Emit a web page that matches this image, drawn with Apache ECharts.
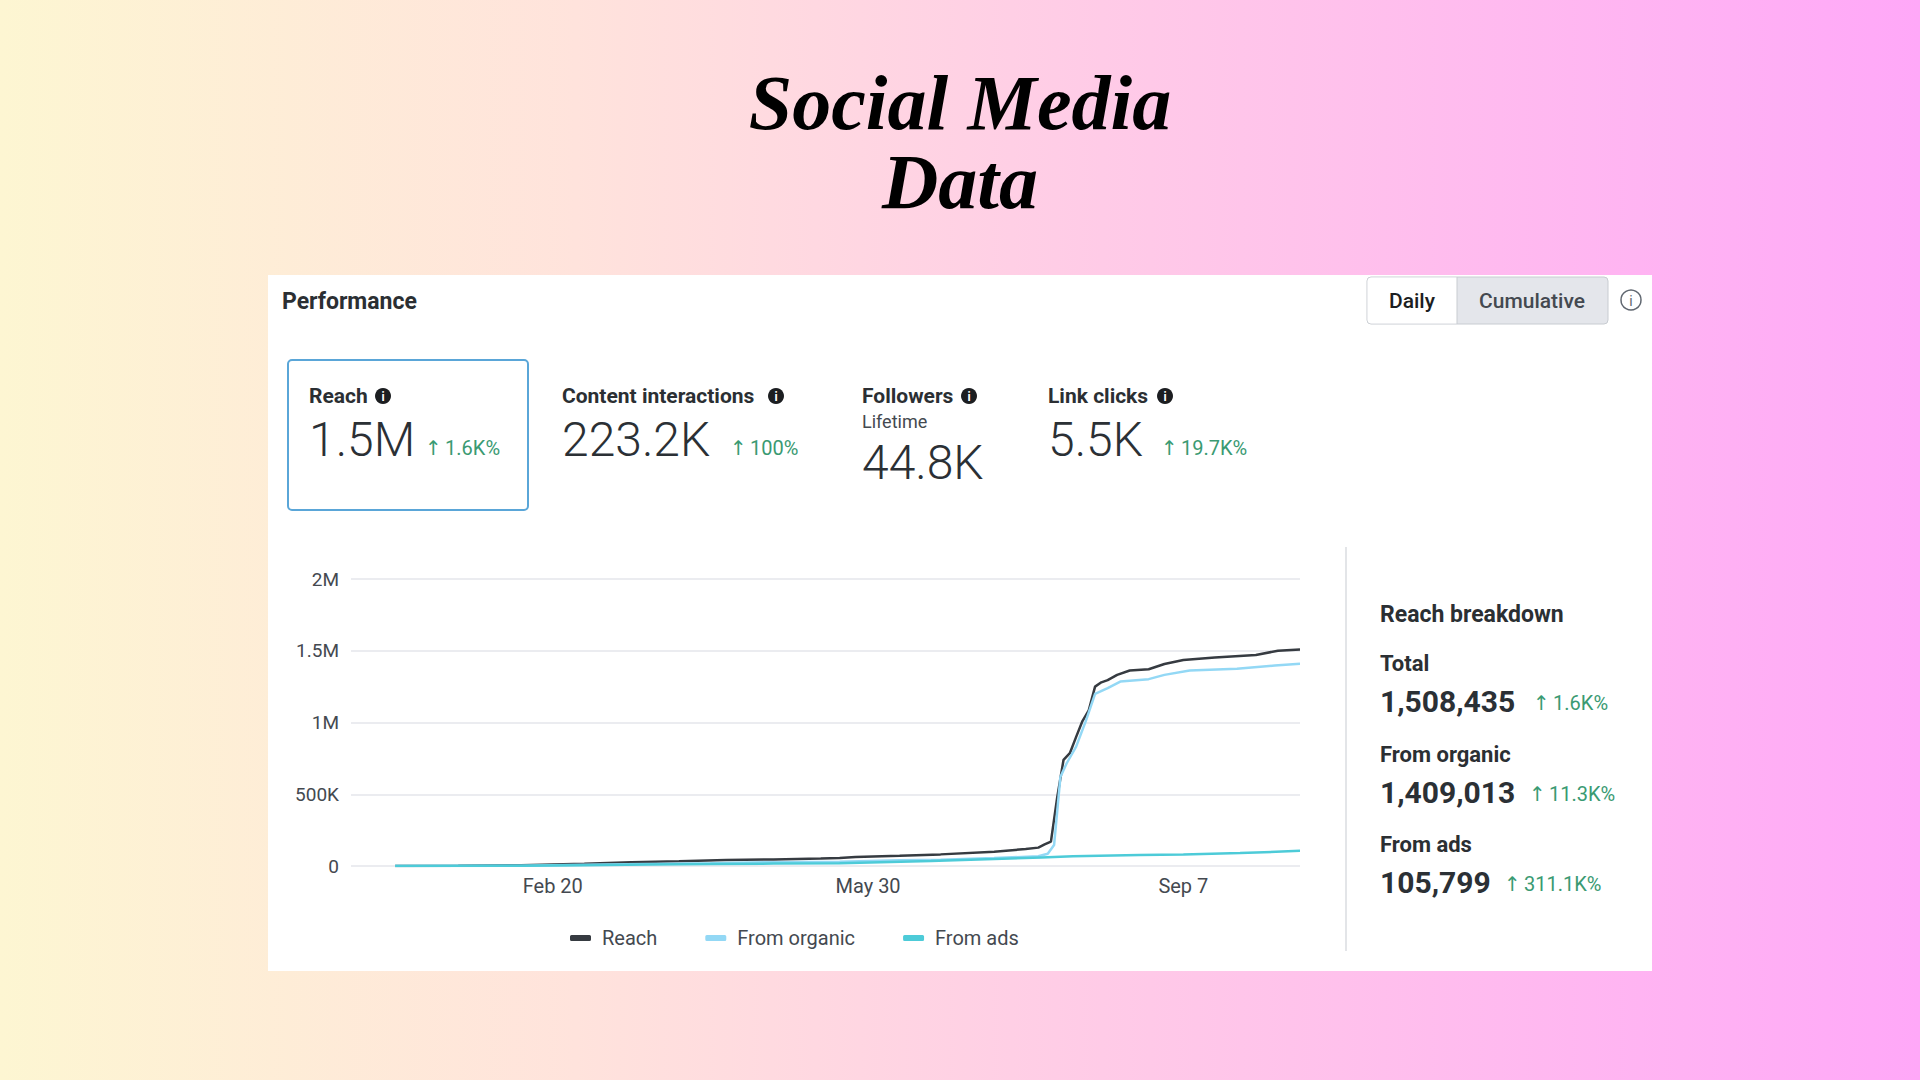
<!DOCTYPE html>
<html>
<head>
<meta charset="utf-8">
<title>Social Media Data</title>
<script src="https://cdn.jsdelivr.net/npm/echarts@6/dist/echarts.min.js"></script>
<style>
  html, body { margin: 0; padding: 0; }
  #main { width: 1920px; height: 1080px; }
</style>
</head>
<body>
<div id="main"></div>
<script>
// day numbers count from Jan 1 (day 0)
var tickDays = [50, 150, 250];
var tickLabels = ['Feb 20', 'May 30', 'Sep 7'];

var reachDays = [0, 20, 40, 60, 75, 90, 105, 120, 135, 141, 146, 160, 173, 190, 200, 204, 206, 208, 210, 212, 214, 216, 218, 220, 222, 224, 226, 229, 233, 239, 244, 250, 260, 273, 280, 287];
var reachValues = [0, 2000, 5000, 15000, 26000, 33000, 42000, 46000, 52000, 55000, 63000, 72000, 81000, 100000, 118000, 128000, 150000, 170000, 480000, 740000, 786000, 900000, 1010000, 1085000, 1250000, 1280000, 1295000, 1332000, 1362000, 1371000, 1408000, 1436000, 1453000, 1471000, 1500000, 1508435];

var organicDays = [0, 40, 60, 80, 100, 120, 141, 160, 173, 190, 204, 207, 209, 211, 213, 216, 219, 222, 226, 230, 239, 244, 252, 267, 279, 287];
var organicValues = [0, 2000, 8000, 14000, 20000, 27000, 30000, 40000, 44000, 55000, 68000, 85000, 146000, 620000, 716000, 832000, 1006000, 1200000, 1239000, 1285000, 1302000, 1332000, 1362000, 1374000, 1397000, 1409013];

var adsDays = [0, 40, 60, 80, 100, 120, 141, 170, 190, 205, 215, 236, 250, 268, 287];
var adsValues = [0, 2000, 6000, 10000, 14000, 17000, 20000, 35000, 48000, 60000, 68000, 76000, 80000, 90000, 105799];

var cardLabels = ['Reach', 'Content interactions', 'Followers', 'Link clicks'];
var cardValues = ['1.5M', '223.2K', '44.8K', '5.5K'];
var cardChanges = ['1.6K%', '100%', '', '19.7K%'];

var breakdownLabels = ['Total', 'From organic', 'From ads'];
var breakdownValues = ['1,508,435', '1,409,013', '105,799'];
var breakdownChanges = ['1.6K%', '11.3K%', '311.1K%'];

function pairs(days, values) {
  return days.map(function (d, i) { return [d, values[i]]; });
}

var UI = 'Roboto, "Noto Sans", sans-serif';
var GREEN = '#3a9a72';

function txt(x, y, text, font, fill, align) {
  return {
    type: 'text', x: x, y: y, silent: true,
    style: { text: text, font: font, fill: fill, textAlign: align || 'left', textVerticalAlign: 'middle' }
  };
}
// green "up" change, arrow drawn a little larger like the reference
function change(x, y, value) {
  return {
    type: 'text', x: x, y: y, silent: true,
    style: {
      text: '{a|↑} {b|' + value + '}',
      textAlign: 'left', textVerticalAlign: 'middle',
      rich: {
        a: { font: '20px "DejaVu Sans"', fill: GREEN },
        b: { font: '20px ' + UI, fill: GREEN }
      }
    }
  };
}
function infoDot(x, y) {
  return [
    { type: 'circle', shape: { cx: x, cy: y, r: 8 }, style: { fill: '#1c1e21' }, silent: true },
    txt(x, y + 1, 'i', 'bold 12px ' + UI, '#fff', 'center')
  ];
}

var graphics = [
  {
    type: 'rect', z: -10, silent: true,
    shape: { x: 0, y: 0, width: 1920, height: 1080 },
    style: {
      fill: new echarts.graphic.LinearGradient(0, 0, 1, 0, [
        { offset: 0, color: '#fdf6d2' },
        { offset: 0.3, color: '#ffe3dc' },
        { offset: 0.55, color: '#ffcde6' },
        { offset: 1, color: '#ffa8f8' }
      ])
    }
  },
  txt(960, 102, 'Social Media', 'italic bold 78px "Liberation Serif", serif', '#000', 'center'),
  txt(960, 181, 'Data', 'italic bold 78px "Liberation Serif", serif', '#000', 'center'),
  { type: 'rect', z: -5, silent: true, shape: { x: 268, y: 275, width: 1384, height: 696 }, style: { fill: '#fff' } },
  txt(282, 301, 'Performance', 'bold 23px ' + UI, '#2b2f33'),
  // Daily / Cumulative toggle
  { type: 'rect', silent: true, shape: { x: 1367, y: 277, width: 241, height: 47, r: 4 }, style: { fill: '#e4e6eb', stroke: '#c8ccd1', lineWidth: 1 } },
  { type: 'rect', silent: true, shape: { x: 1367.5, y: 277.5, width: 89.5, height: 46, r: [4, 0, 0, 4] }, style: { fill: '#fff' } },
  { type: 'line', silent: true, shape: { x1: 1457, y1: 277, x2: 1457, y2: 324 }, style: { stroke: '#c8ccd1', lineWidth: 1 } },
  txt(1412, 301, 'Daily', '500 21px ' + UI, '#1c1e21', 'center'),
  txt(1532, 301, 'Cumulative', '500 21px ' + UI, '#444950', 'center'),
  { type: 'circle', silent: true, shape: { cx: 1631, cy: 300, r: 10 }, style: { fill: 'none', stroke: '#606770', lineWidth: 1.5 } },
  txt(1631, 301, 'i', '14px ' + UI, '#606770', 'center'),
  // selected card border
  { type: 'rect', silent: true, shape: { x: 288, y: 360, width: 240, height: 150, r: 4 }, style: { fill: 'none', stroke: '#5aa6d8', lineWidth: 2 } },
  // divider
  { type: 'line', silent: true, shape: { x1: 1346, y1: 547, x2: 1346, y2: 951 }, style: { stroke: '#dadde1', lineWidth: 1.5 } },
  txt(1380, 614, 'Reach breakdown', 'bold 23px ' + UI, '#2b2f33')
];

// metric cards
var cardX = [309, 562, 862, 1048];
var infoX = [383, 776, 969, 1165];
var changeX = [425, 730, 0, 1161];
cardLabels.forEach(function (label, i) {
  graphics.push(txt(cardX[i], 396, label, 'bold 21px ' + UI, '#2b2f33'));
  graphics = graphics.concat(infoDot(infoX[i], 396));
  var vy = i === 2 ? 462 : 439;
  graphics.push(txt(cardX[i], vy, cardValues[i], '300 48px ' + UI, '#2b3035'));
  if (cardChanges[i]) graphics.push(change(changeX[i], 448, cardChanges[i]));
});
graphics.push(txt(862, 421, 'Lifetime', '18px ' + UI, '#444950'));

// reach breakdown
var bdLabelY = [663, 754, 844];
var bdChangeX = [1533, 1529, 1504];
breakdownLabels.forEach(function (label, i) {
  graphics.push(txt(1380, bdLabelY[i], label, 'bold 22px ' + UI, '#2b2f33'));
  graphics.push(txt(1380, bdLabelY[i] + 38, breakdownValues[i], 'bold 30px ' + UI, '#2b3035'));
  graphics.push(change(bdChangeX[i], bdLabelY[i] + 40, breakdownChanges[i]));
});

var chart = echarts.init(document.getElementById('main'), null, { renderer: 'svg' });

var option = {
  animation: false,
  graphic: graphics,
  tooltip: { trigger: 'axis' },
  grid: { left: 351, right: 620, top: 579, height: 287 },
  legend: {
    left: 565, top: 923,
    itemWidth: 21, itemHeight: 6, itemGap: 48,
    icon: 'roundRect',
    textStyle: { fontFamily: UI, fontSize: 20, color: '#444950', padding: [0, 0, 0, 6] },
    data: ['Reach', 'From organic', 'From ads']
  },
  xAxis: {
    type: 'value', min: -14, max: 287,
    axisLine: { show: false },
    axisTick: { show: false },
    splitLine: { show: false },
    axisLabel: {
      customValues: tickDays,
      margin: 10,
      fontFamily: UI, fontSize: 20, color: '#444950',
      formatter: function (v) { return tickLabels[tickDays.indexOf(v)]; }
    }
  },
  yAxis: {
    type: 'value', min: 0, max: 2000000, interval: 500000,
    axisLine: { show: false },
    axisTick: { show: false },
    splitLine: { lineStyle: { color: '#e4e6eb', width: 1.5 } },
    axisLabel: {
      margin: 12,
      fontFamily: UI, fontSize: 19, color: '#444950',
      formatter: function (v) {
        if (v === 0) return '0';
        if (v >= 1000000) return (v / 1000000) + 'M';
        return (v / 1000) + 'K';
      }
    }
  },
  series: [
    {
      name: 'Reach', type: 'line', showSymbol: false,
      itemStyle: { color: '#363b41' },
      lineStyle: { width: 2.5, color: '#363b41' },
      data: pairs(reachDays, reachValues)
    },
    {
      name: 'From organic', type: 'line', showSymbol: false,
      itemStyle: { color: '#93d8f5' },
      lineStyle: { width: 2.5, color: '#93d8f5' },
      data: pairs(organicDays, organicValues)
    },
    {
      name: 'From ads', type: 'line', showSymbol: false,
      itemStyle: { color: '#4dcbd8' },
      lineStyle: { width: 2.5, color: '#4dcbd8' },
      data: pairs(adsDays, adsValues)
    }
  ]
};

option && chart.setOption(option);
</script>
</body>
</html>
